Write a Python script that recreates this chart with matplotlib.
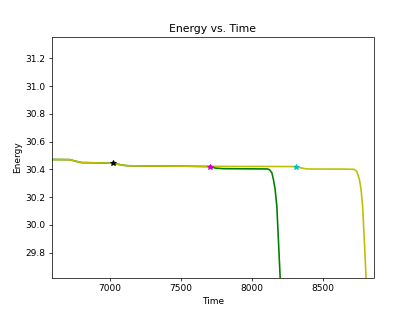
import matplotlib
matplotlib.use("Agg")
import matplotlib.pyplot as plt

# Yellow trajectory (time, energy)
yellow_t = [6591, 6718, 6760, 6800, 6900, 7019, 7050, 7090, 7129, 7300, 7500, 7705, 7900, 8100, 8310,
            8340, 8387, 8500, 8650, 8721, 8740, 8757, 8769, 8780, 8792, 8804, 8812]
yellow_e = [30.471, 30.470, 30.458, 30.449, 30.447, 30.444, 30.438, 30.430, 30.426, 30.424, 30.423, 30.422,
            30.421, 30.421, 30.420, 30.412, 30.403, 30.402, 30.402, 30.400, 30.384, 30.331, 30.259, 30.138,
            29.897, 29.630, 29.45]

# Green trajectory (time, energy)
green_t = [6591, 6718, 6760, 6800, 6900, 7019, 7050, 7090, 7129, 7300, 7500, 7705, 7740, 7797, 7950,
           8110, 8125, 8141, 8152, 8164, 8176, 8187, 8199, 8205]
green_e = [30.471, 30.470, 30.458, 30.449, 30.447, 30.444, 30.438, 30.430, 30.426, 30.424, 30.423, 30.420,
           30.410, 30.405, 30.404, 30.403, 30.397, 30.375, 30.327, 30.255, 30.134, 29.893, 29.630, 29.45]

# Star markers
star_t = [7019, 7705, 8310]
star_e = [30.444, 30.420, 30.420]
star_colors = ["k", "m", "c"]

fig = plt.figure(figsize=(415 / 65, 312 / 65), dpi=65)
ax = fig.add_subplot(111)
ax.plot(green_t, green_e, color="g", lw=1.8)
ax.plot(yellow_t, yellow_e, color="y", lw=1.8)
for t, e, c in zip(star_t, star_e, star_colors):
    ax.plot(t, e, marker="*", color=c, markersize=6, linestyle="none")

ax.set_xlim(6591, 8857)
ax.set_ylim(29.62, 31.35)
ax.set_xticks([7000, 7500, 8000, 8500])
ax.set_yticks([29.8, 30.0, 30.2, 30.4, 30.6, 30.8, 31.0, 31.2])
ax.set_title("Energy vs. Time")
ax.set_xlabel("Time")
ax.set_ylabel("Energy")
fig.savefig("out.png", dpi=65)
